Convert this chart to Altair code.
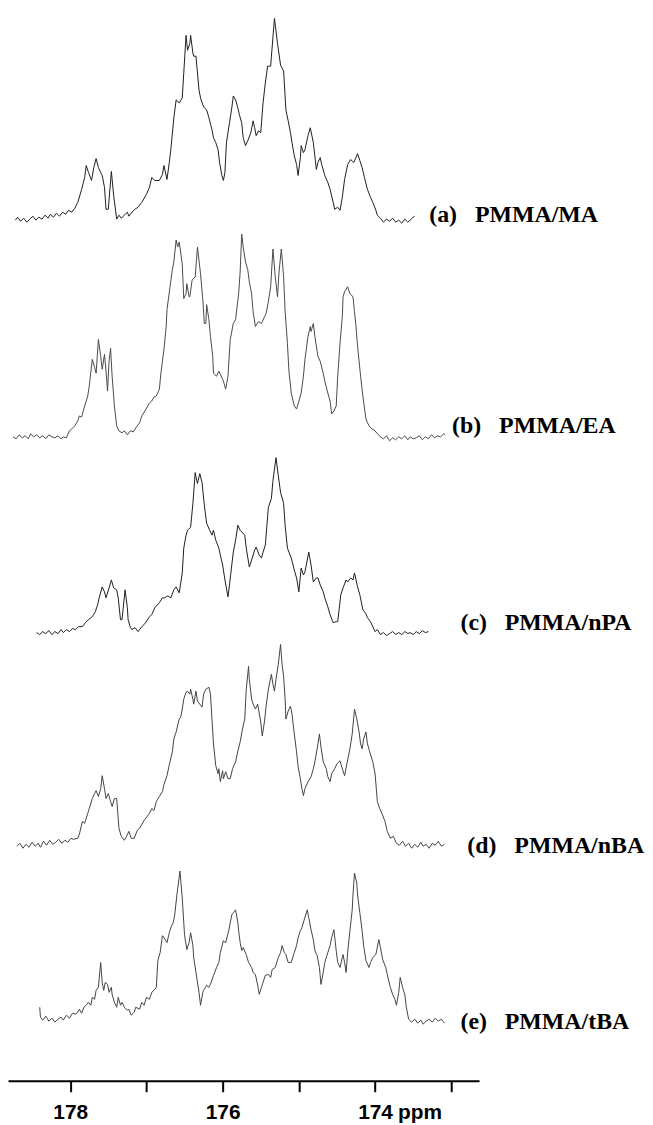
import altair as alt
import pandas as pd

# (chemical shift in ppm, relative intensity)
spec_a = [
    (178.72, 2), (178.69, 5), (178.65, 1), (178.61, 4), (178.57, 0), (178.53, 3), (178.49, 6), (178.45, 2),
    (178.41, 5), (178.37, 3), (178.33, 7), (178.29, 4), (178.26, 8), (178.22, 5), (178.18, 9), (178.14, 6),
    (178.10, 10), (178.06, 8), (178.02, 12), (177.98, 10), (177.94, 14), (177.90, 20),
    (177.85, 33), (177.81, 45), (177.79, 57), (177.76, 50), (177.72, 42), (177.69, 55), (177.66, 64),
    (177.63, 55), (177.60, 50), (177.58, 47), (177.55, 35), (177.53, 13), (177.50, 13), (177.46, 51),
    (177.43, 27), (177.39, 3), (177.36, 7), (177.33, 4), (177.29, 7), (177.25, 10), (177.23, 6),
    (177.19, 10), (177.15, 13), (177.11, 15), (177.06, 20), (177.00, 28), (176.96, 35), (176.93, 45),
    (176.89, 42), (176.83, 42), (176.79, 48), (176.77, 57), (176.73, 43), (176.70, 60), (176.68, 73),
    (176.64, 105), (176.61, 123), (176.57, 120), (176.53, 125), (176.51, 150), (176.48, 188), (176.47, 180),
    (176.46, 173), (176.43, 180), (176.42, 188), (176.39, 170), (176.38, 167), (176.35, 167), (176.31, 133),
    (176.29, 125), (176.26, 118), (176.24, 115), (176.21, 113), (176.18, 105), (176.14, 93), (176.12, 85),
    (176.09, 80), (176.06, 73), (176.04, 60), (176.01, 47), (175.99, 42), (175.97, 50), (175.95, 80),
    (175.91, 100), (175.88, 115), (175.86, 127), (175.83, 123), (175.80, 115), (175.78, 108), (175.75, 100),
    (175.73, 85), (175.70, 77), (175.67, 82), (175.63, 90), (175.60, 102), (175.58, 95), (175.56, 87),
    (175.53, 92), (175.50, 90), (175.47, 120), (175.44, 140), (175.41, 157), (175.37, 157), (175.36, 167),
    (175.32, 205), (175.28, 180), (175.24, 158), (175.20, 152), (175.17, 113), (175.14, 102), (175.11, 90),
    (175.09, 80), (175.06, 67), (175.03, 58), (175.01, 47), (174.98, 65), (174.97, 77), (174.94, 70),
    (174.92, 73), (174.88, 87), (174.85, 95), (174.81, 80), (174.77, 53), (174.75, 60), (174.72, 65),
    (174.70, 58), (174.66, 47), (174.62, 40), (174.59, 33), (174.55, 20), (174.53, 13), (174.49, 15),
    (174.46, 12), (174.43, 25), (174.40, 43), (174.36, 58), (174.32, 63), (174.28, 60), (174.25, 65),
    (174.23, 69), (174.20, 62), (174.17, 55), (174.14, 45), (174.10, 33), (174.06, 25), (174.03, 20),
    (173.99, 12), (173.97, 7), (173.93, 4),
    (173.89, 0), (173.85, 3), (173.81, 1), (173.77, 4), (173.73, 0), (173.69, 2), (173.65, -1), (173.61, 3),
    (173.57, 0), (173.54, 2), (173.50, 5), (173.48, 6),
]

spec_b = [
    (178.75, 2), (178.71, 0), (178.67, 4), (178.63, 1), (178.59, 3), (178.55, 0), (178.52, 5), (178.48, 2),
    (178.44, 4), (178.40, 1), (178.36, 3), (178.32, 0), (178.28, 4), (178.24, 2), (178.20, 1), (178.16, 3),
    (178.12, 0), (178.09, 2), (178.05, 1),
    (178.01, 8), (177.98, 10), (177.94, 13), (177.90, 18), (177.88, 23), (177.85, 22), (177.81, 33),
    (177.77, 43), (177.75, 53), (177.71, 80), (177.68, 72), (177.66, 66), (177.63, 100), (177.60, 83),
    (177.58, 70), (177.55, 85), (177.53, 68), (177.51, 48), (177.49, 78), (177.47, 91), (177.45, 63),
    (177.42, 33), (177.39, 13), (177.36, 8), (177.32, 6), (177.29, 8), (177.25, 4), (177.21, 8),
    (177.17, 7), (177.14, 11), (177.09, 16), (177.06, 23), (177.02, 28), (176.96, 36), (176.93, 38),
    (176.90, 42), (176.87, 43), (176.83, 50), (176.81, 66), (176.77, 90), (176.74, 113), (176.73, 130),
    (176.69, 153), (176.66, 170), (176.64, 178), (176.61, 200), (176.59, 193), (176.57, 198), (176.53, 176),
    (176.51, 141), (176.48, 146), (176.47, 156), (176.44, 143), (176.43, 143), (176.40, 160), (176.36, 163),
    (176.33, 193), (176.29, 166), (176.26, 140), (176.24, 116), (176.22, 116), (176.21, 135), (176.18, 120),
    (176.16, 103), (176.13, 83), (176.12, 66), (176.08, 63), (176.05, 68), (176.03, 65), (175.99, 58),
    (175.96, 50), (175.93, 63), (175.90, 100), (175.86, 116), (175.83, 120), (175.79, 146), (175.77, 168),
    (175.75, 206), (175.73, 193), (175.70, 178), (175.67, 170), (175.65, 158), (175.62, 146), (175.60, 128),
    (175.57, 113), (175.53, 118), (175.49, 116), (175.45, 123), (175.43, 126), (175.40, 138), (175.37, 153),
    (175.34, 191), (175.31, 163), (175.28, 143), (175.26, 168), (175.23, 191), (175.20, 163), (175.18, 128),
    (175.15, 96), (175.13, 68), (175.10, 46), (175.06, 33), (175.03, 30), (175.01, 35), (174.97, 46),
    (174.94, 63), (174.92, 80), (174.88, 103), (174.85, 113), (174.84, 108), (174.81, 116), (174.79, 103),
    (174.75, 83), (174.72, 78), (174.68, 66), (174.66, 58), (174.62, 46), (174.59, 38), (174.57, 25),
    (174.54, 28), (174.51, 33), (174.49, 63), (174.46, 96), (174.43, 123), (174.42, 143), (174.40, 148),
    (174.36, 153), (174.33, 146), (174.29, 143), (174.27, 128), (174.25, 113), (174.23, 93), (174.19, 63),
    (174.16, 43), (174.12, 20), (174.10, 16), (174.06, 11), (174.00, 8), (173.97, 5),
    (173.93, 2), (173.89, 0), (173.85, 3), (173.81, -2), (173.77, 1), (173.73, -1), (173.69, 2), (173.65, 0),
    (173.61, 3), (173.57, -1), (173.54, 2), (173.50, 0), (173.46, 1), (173.42, 3), (173.38, -1), (173.34, 2),
    (173.30, 0), (173.26, 4), (173.22, 1), (173.18, 3), (173.14, 2), (173.10, 5), (173.08, 4),
]

spec_c = [
    (178.44, 2), (178.40, 0), (178.36, 3), (178.32, 1), (178.28, 4), (178.24, 0), (178.20, 3), (178.16, 1),
    (178.12, 5), (178.09, 2), (178.05, 5), (178.01, 3), (177.97, 6), (177.93, 5), (177.89, 8),
    (177.84, 8), (177.80, 12), (177.76, 15), (177.71, 18), (177.67, 23), (177.64, 30), (177.62, 37),
    (177.58, 48), (177.55, 43), (177.53, 37), (177.49, 47), (177.46, 55), (177.43, 47), (177.39, 45),
    (177.37, 37), (177.34, 15), (177.32, 15), (177.28, 45), (177.25, 27), (177.24, 15), (177.21, 7),
    (177.19, 5), (177.15, 7), (177.11, 3), (177.06, 8), (177.02, 11), (176.96, 18), (176.93, 20),
    (176.89, 27), (176.83, 32), (176.79, 37), (176.76, 37), (176.72, 39), (176.68, 37), (176.64, 45),
    (176.61, 48), (176.57, 42), (176.53, 62), (176.51, 87), (176.48, 100), (176.46, 105), (176.42, 108),
    (176.39, 132), (176.36, 163), (176.34, 155), (176.33, 152), (176.30, 162), (176.27, 153), (176.26, 145),
    (176.24, 130), (176.21, 112), (176.17, 105), (176.14, 100), (176.12, 105), (176.09, 95), (176.05, 87),
    (176.03, 80), (176.00, 70), (175.97, 55), (175.93, 38), (175.91, 50), (175.88, 70), (175.86, 83),
    (175.83, 95), (175.80, 110), (175.77, 105), (175.71, 100), (175.69, 87), (175.65, 68), (175.62, 75),
    (175.58, 85), (175.56, 88), (175.52, 80), (175.49, 77), (175.47, 83), (175.44, 90), (175.40, 128),
    (175.36, 137), (175.34, 155), (175.30, 178), (175.27, 160), (175.24, 143), (175.20, 132), (175.18, 110),
    (175.15, 87), (175.13, 83), (175.10, 77), (175.06, 65), (175.03, 57), (175.00, 43), (174.97, 67),
    (174.94, 60), (174.92, 63), (174.89, 75), (174.87, 83), (174.84, 70), (174.81, 53), (174.77, 57),
    (174.75, 57), (174.72, 50), (174.68, 43), (174.66, 37), (174.62, 28), (174.59, 20), (174.55, 12),
    (174.51, 13), (174.49, 13), (174.45, 40), (174.42, 47), (174.38, 55), (174.36, 53), (174.32, 57),
    (174.29, 55), (174.27, 62), (174.23, 48), (174.20, 40), (174.16, 25), (174.12, 21), (174.10, 17),
    (174.06, 13), (174.00, 3), (173.97, 5),
    (173.93, 0), (173.89, 2), (173.85, -1), (173.81, 1), (173.77, 3), (173.73, 0), (173.69, 2), (173.65, 0),
    (173.61, 3), (173.57, 1), (173.54, 2), (173.50, 0), (173.46, 3), (173.42, 1), (173.38, 4), (173.34, 2),
    (173.30, 3),
]

spec_d = [
    (178.70, 2), (178.66, 5), (178.62, 0), (178.58, 4), (178.54, 1), (178.50, 6), (178.46, 2), (178.42, 5),
    (178.39, 1), (178.35, 7), (178.31, 3), (178.27, 8), (178.23, 4), (178.19, 6), (178.15, 9), (178.11, 5),
    (178.07, 8), (178.03, 6), (177.99, 10), (177.96, 9),
    (177.90, 10), (177.88, 14), (177.84, 27), (177.81, 25), (177.77, 35), (177.75, 40), (177.71, 50),
    (177.68, 55), (177.66, 58), (177.63, 52), (177.60, 60), (177.58, 73), (177.55, 60), (177.53, 50),
    (177.50, 55), (177.47, 47), (177.45, 42), (177.42, 50), (177.39, 50), (177.36, 20), (177.33, 12),
    (177.29, 8), (177.26, 12), (177.23, 17), (177.20, 10), (177.16, 10), (177.12, 18), (177.09, 20),
    (177.06, 24), (177.03, 28), (176.99, 32), (176.96, 35), (176.93, 40), (176.90, 38), (176.87, 47),
    (176.83, 52), (176.79, 57), (176.77, 64), (176.73, 73), (176.70, 84), (176.66, 97), (176.64, 110),
    (176.61, 117), (176.57, 130), (176.55, 132), (176.53, 140), (176.51, 150), (176.48, 157), (176.46, 158),
    (176.43, 155), (176.42, 160), (176.39, 150), (176.38, 145), (176.35, 158), (176.33, 148), (176.30, 145),
    (176.27, 142), (176.25, 155), (176.22, 160), (176.18, 162), (176.16, 155), (176.14, 130), (176.12, 105),
    (176.09, 83), (176.06, 75), (176.05, 80), (176.03, 67), (176.00, 78), (175.99, 70), (175.96, 77),
    (175.93, 70), (175.90, 70), (175.87, 80), (175.83, 87), (175.80, 98), (175.77, 107), (175.74, 120),
    (175.71, 130), (175.69, 160), (175.66, 183), (175.65, 170), (175.62, 150), (175.60, 145), (175.57, 140),
    (175.54, 145), (175.50, 127), (175.48, 113), (175.45, 128), (175.43, 143), (175.40, 160), (175.36, 175),
    (175.34, 165), (175.32, 158), (175.30, 170), (175.27, 185), (175.24, 205), (175.22, 185), (175.20, 173),
    (175.18, 150), (175.17, 130), (175.14, 138), (175.11, 143), (175.09, 135), (175.06, 115), (175.03, 97),
    (175.01, 82), (174.98, 70), (174.96, 60), (174.94, 53), (174.92, 60), (174.88, 67), (174.84, 72),
    (174.81, 80), (174.79, 87), (174.76, 100), (174.73, 115), (174.71, 102), (174.68, 87), (174.64, 80),
    (174.62, 72), (174.59, 67), (174.57, 75), (174.53, 80), (174.50, 85), (174.46, 88), (174.43, 80),
    (174.40, 73), (174.37, 85), (174.33, 100), (174.30, 115), (174.27, 140), (174.24, 130), (174.21, 117),
    (174.19, 105), (174.17, 100), (174.15, 110), (174.12, 117), (174.10, 105), (174.07, 97), (174.03, 87),
    (174.00, 75), (173.97, 47), (173.94, 40), (173.91, 35), (173.87, 27), (173.84, 17), (173.80, 10),
    (173.76, 12), (173.72, 5),
    (173.68, 3), (173.64, 7), (173.60, 2), (173.56, 5), (173.52, 0), (173.48, 4), (173.44, 1), (173.40, 6),
    (173.37, 2), (173.33, 4), (173.29, 0), (173.25, 5), (173.21, 3), (173.17, 7), (173.13, 2), (173.09, 4),
]

spec_e = [
    (178.40, 15), (178.39, 5),
    (178.36, 2), (178.32, 6), (178.28, 1), (178.24, 4), (178.20, 0), (178.16, 3), (178.12, 5), (178.09, 2),
    (178.05, 7), (178.01, 4), (177.97, 9), (177.93, 8),
    (177.90, 10), (177.88, 13), (177.85, 9), (177.82, 15), (177.79, 17), (177.76, 20), (177.73, 17),
    (177.71, 25), (177.68, 23), (177.66, 32), (177.63, 35), (177.60, 60), (177.58, 40), (177.56, 32),
    (177.54, 40), (177.51, 38), (177.49, 30), (177.46, 35), (177.45, 28), (177.42, 20), (177.39, 15),
    (177.37, 25), (177.34, 17), (177.32, 20), (177.29, 15), (177.25, 12), (177.23, 13), (177.20, 7),
    (177.16, 10), (177.14, 15), (177.09, 13), (177.06, 20), (177.03, 17), (177.00, 25), (176.96, 23),
    (176.93, 30), (176.90, 32), (176.87, 35), (176.85, 62), (176.82, 70), (176.79, 87), (176.77, 85),
    (176.73, 80), (176.70, 90), (176.68, 95), (176.65, 100), (176.63, 107), (176.60, 128), (176.56, 152),
    (176.53, 125), (176.50, 88), (176.47, 73), (176.44, 80), (176.42, 90), (176.39, 77), (176.38, 65),
    (176.34, 45), (176.31, 30), (176.29, 17), (176.26, 30), (176.25, 32), (176.21, 37), (176.18, 35),
    (176.16, 38), (176.12, 47), (176.08, 55), (176.05, 60), (176.03, 70), (175.99, 82), (175.96, 80),
    (175.92, 92), (175.90, 100), (175.88, 108), (175.86, 110), (175.83, 113), (175.80, 100), (175.79, 92),
    (175.77, 80), (175.75, 72), (175.73, 75), (175.69, 68), (175.66, 60), (175.62, 55), (175.60, 50),
    (175.57, 48), (175.54, 37), (175.52, 28), (175.49, 35), (175.47, 40), (175.44, 47), (175.40, 48),
    (175.37, 45), (175.35, 53), (175.31, 55), (175.27, 65), (175.24, 70), (175.22, 77), (175.19, 70),
    (175.17, 68), (175.14, 60), (175.10, 60), (175.06, 70), (175.03, 77), (175.01, 85), (174.98, 92),
    (174.96, 95), (174.93, 103), (174.89, 113), (174.87, 105), (174.84, 93), (174.81, 83), (174.79, 72),
    (174.76, 67), (174.73, 55), (174.71, 38), (174.68, 50), (174.66, 60), (174.62, 70), (174.59, 77),
    (174.57, 85), (174.54, 93), (174.51, 72), (174.49, 60), (174.46, 55), (174.43, 65), (174.42, 68),
    (174.40, 60), (174.38, 50), (174.36, 70), (174.33, 92), (174.30, 113), (174.29, 128), (174.27, 150),
    (174.24, 140), (174.23, 128), (174.20, 110), (174.17, 92), (174.15, 77), (174.12, 62), (174.08, 55),
    (174.06, 60), (174.03, 65), (173.99, 68), (173.95, 83), (173.93, 75), (173.90, 63), (173.86, 55),
    (173.84, 48), (173.80, 35), (173.77, 28), (173.74, 23), (173.72, 17), (173.69, 30), (173.67, 45),
    (173.64, 35), (173.61, 28), (173.59, 15), (173.56, 3),
    (173.52, 0), (173.48, 3), (173.44, -1), (173.40, 2), (173.37, -2), (173.33, 1), (173.29, 3), (173.25, 0),
    (173.21, 4), (173.17, 1), (173.13, 3), (173.09, -1),
]

series_names = ["(a)\u00a0\u00a0\u00a0PMMA/MA", "(b)\u00a0\u00a0\u00a0PMMA/EA", "(c)\u00a0\u00a0\u00a0PMMA/nPA",
                "(d)\u00a0\u00a0\u00a0PMMA/nBA", "(e)\u00a0\u00a0\u00a0PMMA/tBA"]
spectra = [spec_a, spec_b, spec_c, spec_d, spec_e]
line_colors = ["#1e1e1e", "#4a4a4a", "#1e1e1e", "#444444", "#444444"]

# layout: vertical stacking offset of each spectrum and where its label sits
stack_offsets = [864, 646, 449, 234, 59]
label_ppm = [173.29, 172.99, 172.88, 172.79, 172.88]
label_lift = [7, 13, 12, 2, 0]

tick_values = [178, 177, 176, 175, 174, 173]

rows = []
for name, spec, off in zip(series_names, spectra, stack_offsets):
    for i, (ppm, inten) in enumerate(spec):
        rows.append({"series": name, "ppm": ppm, "intensity": inten, "offset": off, "idx": i})
df = pd.DataFrame(rows)

labels = pd.DataFrame({
    "series": series_names,
    "ppm": label_ppm,
    "ypos": [o + l for o, l in zip(stack_offsets, label_lift)],
})

W, H = 474, 1076
xscale = alt.Scale(domain=[172.636, 178.816], reverse=True, nice=False, zero=False)
yscale = alt.Scale(domain=[0, H], nice=False, zero=False)

lines = alt.Chart(df).transform_calculate(
    shifted="datum.intensity + datum.offset"
).mark_line(strokeWidth=1, strokeJoin="round").encode(
    x=alt.X("ppm:Q", scale=xscale,
            axis=alt.Axis(values=tick_values, title=None, format="d",
                          labelExpr="datum.value % 2 == 0 ? datum.label : ''",
                          domainColor="black", domainWidth=2, tickColor="black",
                          tickWidth=2, tickSize=11, labelPadding=10, labelFont="Liberation Sans",
                          labelFontWeight="bold", labelFontSize=21, labelColor="black",
                          labelOverlap=False, labelFlush=False, grid=False)),
    y=alt.Y("shifted:Q", scale=yscale, axis=None),
    color=alt.Color("series:N", scale=alt.Scale(domain=series_names, range=line_colors), legend=None),
    detail="series:N",
    order="idx:Q",
)

label_text = alt.Chart(labels).mark_text(
    align="left", baseline="middle", font="Liberation Serif", fontWeight="bold",
    fontSize=24, color="black"
).encode(
    x=alt.X("ppm:Q", scale=xscale),
    y=alt.Y("ypos:Q", scale=yscale),
    text="series:N",
)

ppm_text = alt.Chart(pd.DataFrame({"ppm": [174]})).mark_text(
    align="left", baseline="top", font="Liberation Sans", fontWeight="bold",
    fontSize=21, color="black", dx=23
).encode(
    x=alt.X("ppm:Q", scale=xscale),
    y=alt.value(H + 21),
    text=alt.value("ppm"),
)

chart = alt.layer(lines, label_text, ppm_text).properties(
    width=W, height=H, padding=0, background="white"
).configure_view(stroke=None)

chart.save("out.html", embed_options={"renderer": "svg", "actions": False})
